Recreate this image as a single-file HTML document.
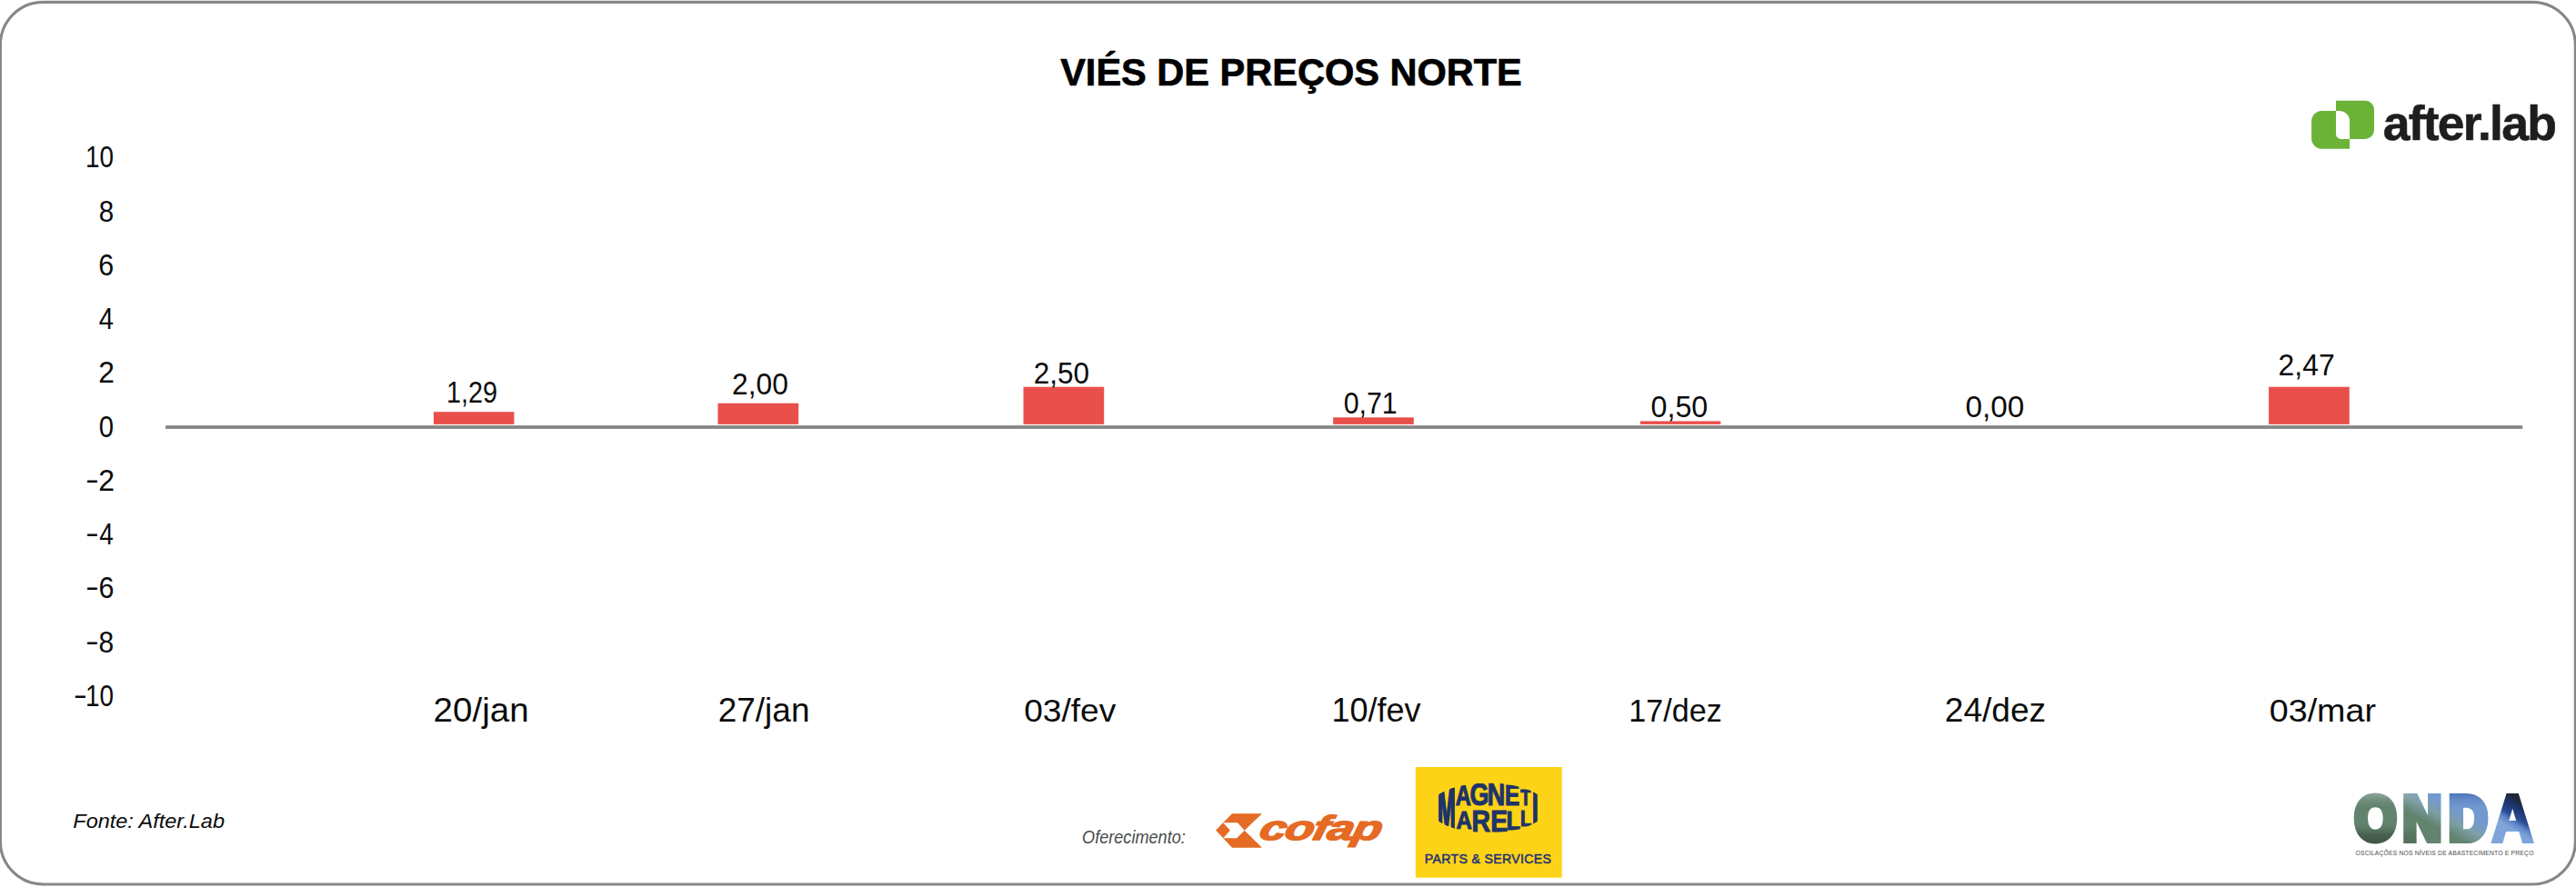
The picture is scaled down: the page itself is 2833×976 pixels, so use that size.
<!DOCTYPE html>
<html lang="pt-BR"><head><meta charset="utf-8"><title>Viés de Preços Norte</title>
<style>
html,body{margin:0;padding:0;background:#fff;}
body{width:2833px;height:976px;overflow:hidden;}
svg{display:block;font-family:"Liberation Sans",sans-serif;}
text{white-space:pre;}
</style></head><body>
<svg width="2833" height="976" viewBox="0 0 2833 976">
<rect x="0.4" y="2.35" width="2831.9" height="970.6" rx="47" ry="47" fill="#fff" stroke="#878787" stroke-width="3.1"/>
<text transform="translate(1166.14 93.65) scale(0.9729 1)" font-size="42.7" font-weight="700" fill="#000" stroke="#000" stroke-width="0.7">VIÉS DE PREÇOS NORTE</text>
<text transform="translate(94.10 184.00) scale(0.8448 1)" font-size="33" fill="#0b0b0b">10</text>
<text transform="translate(108.64 244.00) scale(0.8962 1)" font-size="33" fill="#0b0b0b">8</text>
<text transform="translate(108.18 303.00) scale(0.9238 1)" font-size="33" fill="#0b0b0b">6</text>
<text transform="translate(108.65 362.00) scale(0.8821 1)" font-size="33" fill="#0b0b0b">4</text>
<text transform="translate(108.15 421.00) scale(0.9642 1)" font-size="33" fill="#0b0b0b">2</text>
<text transform="translate(108.73 481.00) scale(0.8885 1)" font-size="33" fill="#0b0b0b">0</text>
<text y="540.00" font-size="33" fill="#0b0b0b"><tspan x="94.00" dy="-1.5" textLength="14.83" lengthAdjust="spacingAndGlyphs">-</tspan><tspan x="108.14" dy="1.5" textLength="17.82" lengthAdjust="spacingAndGlyphs">2</tspan></text>
<text y="599.00" font-size="33" fill="#0b0b0b"><tspan x="94.00" dy="-1.5" textLength="14.83" lengthAdjust="spacingAndGlyphs">-</tspan><tspan x="109.27" dy="1.5" textLength="15.53" lengthAdjust="spacingAndGlyphs">4</tspan></text>
<text y="658.00" font-size="33" fill="#0b0b0b"><tspan x="94.00" dy="-1.5" textLength="14.83" lengthAdjust="spacingAndGlyphs">-</tspan><tspan x="108.38" dy="1.5" textLength="16.96" lengthAdjust="spacingAndGlyphs">6</tspan></text>
<text y="718.00" font-size="33" fill="#0b0b0b"><tspan x="94.00" dy="-1.5" textLength="14.83" lengthAdjust="spacingAndGlyphs">-</tspan><tspan x="108.62" dy="1.5" textLength="16.69" lengthAdjust="spacingAndGlyphs">8</tspan></text>
<text y="777.00" font-size="33" fill="#0b0b0b"><tspan x="80.84" dy="-1.5" textLength="15.24" lengthAdjust="spacingAndGlyphs">-</tspan><tspan x="94.10" dy="1.5" textLength="31.01" lengthAdjust="spacingAndGlyphs">10</tspan></text>
<rect x="182.1" y="468.1" width="2592.1" height="3.8" fill="#878787"/>
<rect x="476.9" y="453.2" width="88.5" height="13.7" fill="#e9504b"/>
<rect x="789.5" y="443.7" width="88.7" height="23.2" fill="#e9504b"/>
<rect x="1125.5" y="425.7" width="88.7" height="41.2" fill="#e9504b"/>
<rect x="1466.1" y="459.3" width="88.7" height="7.6" fill="#e9504b"/>
<rect x="1803.9" y="463.4" width="88.5" height="3.5" fill="#e9504b"/>
<rect x="2495.1" y="425.7" width="88.7" height="41.2" fill="#e9504b"/>
<text transform="translate(490.96 443.05) scale(0.8730 1)" font-size="33" fill="#0b0b0b">1,29</text>
<text transform="translate(805.05 434.00) scale(0.9635 1)" font-size="33" fill="#0b0b0b">2,00</text>
<text transform="translate(1136.67 422.20) scale(0.9537 1)" font-size="33" fill="#0b0b0b">2,50</text>
<text transform="translate(1477.69 454.90) scale(0.9198 1)" font-size="33" fill="#0b0b0b">0,71</text>
<text transform="translate(1815.51 458.70) scale(0.9768 1)" font-size="33" fill="#0b0b0b">0,50</text>
<text transform="translate(2161.62 459.30) scale(1.0077 1)" font-size="33" fill="#0b0b0b">0,00</text>
<text transform="translate(2505.54 413.00) scale(0.9684 1)" font-size="33" fill="#0b0b0b">2,47</text>
<text transform="translate(476.58 794.00) scale(1.0706 1)" font-size="36" fill="#0b0b0b">20/jan</text>
<text transform="translate(789.66 794.00) scale(1.0279 1)" font-size="36" fill="#0b0b0b">27/jan</text>
<text transform="translate(1126.21 794.00) scale(1.0313 1)" font-size="36" fill="#0b0b0b">03/fev</text>
<text x="1464.43" y="794.00" font-size="36" fill="#0b0b0b">10/fev</text>
<text transform="translate(1791.36 794.00) scale(0.9472 1)" font-size="36" fill="#0b0b0b">17/dez</text>
<text transform="translate(2138.76 794.00) scale(1.0303 1)" font-size="36" fill="#0b0b0b">24/dez</text>
<text transform="translate(2495.69 794.00) scale(1.0475 1)" font-size="36" fill="#0b0b0b">03/mar</text>
<text transform="translate(80.30 911.00) scale(1.0778 1)" font-size="21.8" font-style="italic" fill="#0b0b0b">Fonte: After.Lab</text>
<path fill="#6ab337" fill-rule="evenodd" d="M2553.6 122H2572.6A11.5 11.5 0 0 1 2584.1 133.5V163.75H2553.6A11.5 11.5 0 0 1 2542.1 152.25V133.5A11.5 11.5 0 0 1 2553.6 122Z M2569 110.85H2601.5A9.5 9.5 0 0 1 2611 120.35V142.96A10 10 0 0 1 2601 152.96H2574.5A5.5 5.5 0 0 1 2569 147.46Z"/>
<text x="2620.70" y="153.50" letter-spacing="-1.753" font-size="53.5" font-weight="700" fill="#1e1e1e" stroke="#1e1e1e" stroke-width="0.6">after.lab</text>
<text transform="translate(1190.10 928.30) scale(0.9383 1)" font-size="19.3" font-style="italic" fill="#484c48">Oferecimento:</text>
<path fill="#e56a24" d="M1355.02 895.2H1387.9L1368.68 913.73L1387.9 932.78H1355.02L1337.08 913.48Z"/>
<path fill="#fff" d="M1345.19 905.37H1361L1368.68 913.73L1360.14 922.27H1345.19L1352.88 913.73Z"/>
<text transform="translate(1383.5 924) skewX(-12.5) scale(1.40 1)" font-size="37.5" font-weight="700" font-style="italic" fill="#e56a24" stroke="#e56a24" stroke-width="1.5" letter-spacing="-1">cofap</text>
<rect x="1556.8" y="844" width="160.9" height="121.7" fill="#fdd317"/>
<clipPath id="mmclip"><ellipse cx="1636.6" cy="889" rx="64" ry="27.6"/></clipPath>
<g clip-path="url(#mmclip)" fill="#1f3468" stroke="#1f3468" font-weight="700">
<text><tspan x="1581.00" y="911.50" font-size="64.0" stroke-width="2.0" textLength="19.71" lengthAdjust="spacingAndGlyphs">M</tspan><tspan x="1600.64" y="886.40" font-size="30.5" stroke-width="1.1" textLength="17.07" lengthAdjust="spacingAndGlyphs">A</tspan><tspan x="1616.50" y="886.40" font-size="34.9" stroke-width="1.1" textLength="21.01" lengthAdjust="spacingAndGlyphs">G</tspan><tspan x="1635.84" y="886.40" font-size="34.9" stroke-width="1.1" textLength="19.51" lengthAdjust="spacingAndGlyphs">N</tspan><tspan x="1654.91" y="886.40" font-size="31.6" stroke-width="1.1" textLength="16.29" lengthAdjust="spacingAndGlyphs">E</tspan><tspan x="1672.24" y="886.40" font-size="24.0" stroke-width="1.1" textLength="11.34" lengthAdjust="spacingAndGlyphs">T</tspan><tspan x="1684.85" y="911.50" font-size="64.0" stroke-width="1" textLength="7.21" lengthAdjust="spacingAndGlyphs">I</tspan></text>
<text><tspan x="1581.00" y="911.50" font-size="64.0" stroke-width="2.0" textLength="19.71" lengthAdjust="spacingAndGlyphs">M</tspan><tspan x="1601.42" y="911.90" font-size="28.4" stroke-width="1.1" textLength="17.41" lengthAdjust="spacingAndGlyphs">A</tspan><tspan x="1618.44" y="915.40" font-size="33.5" stroke-width="1.1" textLength="20.54" lengthAdjust="spacingAndGlyphs">R</tspan><tspan x="1639.17" y="915.40" font-size="33.5" stroke-width="1.1" textLength="18.97" lengthAdjust="spacingAndGlyphs">E</tspan><tspan x="1656.57" y="913.20" font-size="30.3" stroke-width="1.1" textLength="15.71" lengthAdjust="spacingAndGlyphs">L</tspan><tspan x="1671.90" y="908.90" font-size="24.0" stroke-width="1.1" textLength="12.46" lengthAdjust="spacingAndGlyphs">L</tspan><tspan x="1684.85" y="911.50" font-size="64.0" stroke-width="1" textLength="7.21" lengthAdjust="spacingAndGlyphs">I</tspan></text>
</g>
<text x="1566.73" y="949.60" letter-spacing="0.292" font-size="14.2" fill="#1b2f78" stroke="#1b2f78" stroke-width="0.45">PARTS &amp; SERVICES</text>
<defs>
<linearGradient id="og1" gradientUnits="userSpaceOnUse" x1="106.6" y1="53.9" x2="120" y2="29.3">
<stop offset="0" stop-color="#62846f"/><stop offset="0.5" stop-color="#7d9fa8"/><stop offset="1" stop-color="#7299d0"/>
</linearGradient>
<linearGradient id="og2" gradientUnits="userSpaceOnUse" x1="0" y1="10" x2="0" y2="72">
<stop offset="0" stop-color="#c4d0cc" stop-opacity="0.6"/><stop offset="0.28" stop-color="#8aa396" stop-opacity="0"/><stop offset="0.55" stop-color="#5c7a66" stop-opacity="0"/><stop offset="0.78" stop-color="#455c4d" stop-opacity="0.9"/><stop offset="1" stop-color="#3e5345" stop-opacity="1"/>
</linearGradient>
<linearGradient id="og3" gradientUnits="userSpaceOnUse" x1="0" y1="12" x2="0" y2="34">
<stop offset="0" stop-color="#456cb8" stop-opacity="0.9"/><stop offset="1" stop-color="#7a9fd2" stop-opacity="0"/>
</linearGradient>
<linearGradient id="og4" gradientUnits="userSpaceOnUse" x1="199.5" y1="23.4" x2="182.2" y2="51.7">
<stop offset="0" stop-color="#21252c"/><stop offset="0.3" stop-color="#1d3269"/><stop offset="0.62" stop-color="#2a4c94"/><stop offset="0.8" stop-color="#5f86c8"/><stop offset="1" stop-color="#7fa4da"/>
</linearGradient>
<pattern id="ondaFill" patternUnits="userSpaceOnUse" x="2580" y="860" width="220" height="80" patternTransform="scale(1.16279 1)">
<rect x="0" y="0" width="220" height="80" fill="url(#og1)"/>
<rect x="0" y="0" width="58" height="80" fill="url(#og2)"/>
<rect x="58" y="0" width="24" height="80" fill="url(#og2)" opacity="0.45"/>
<rect x="110" y="0" width="50" height="80" fill="url(#og3)"/>
<rect x="156" y="0" width="64" height="80" fill="url(#og4)"/>
</pattern>
</defs>
<text transform="scale(0.86 1)" x="3011.32 3072.93 3131.74 3186.30" y="923.8" font-size="68" font-weight="700" fill="url(#ondaFill)" stroke="url(#ondaFill)" stroke-width="8" stroke-linejoin="miter" stroke-miterlimit="2">OND<tspan font-size="73.9" stroke-width="4" dy="2">A</tspan></text>
<text x="2590.48" y="940.70" letter-spacing="0.169" font-size="6.8" fill="#4a4a4a">OSCILAÇÕES NOS NÍVEIS DE ABASTECIMENTO E PREÇO</text>
<!--EXTRA-->
</svg>
</body></html>
